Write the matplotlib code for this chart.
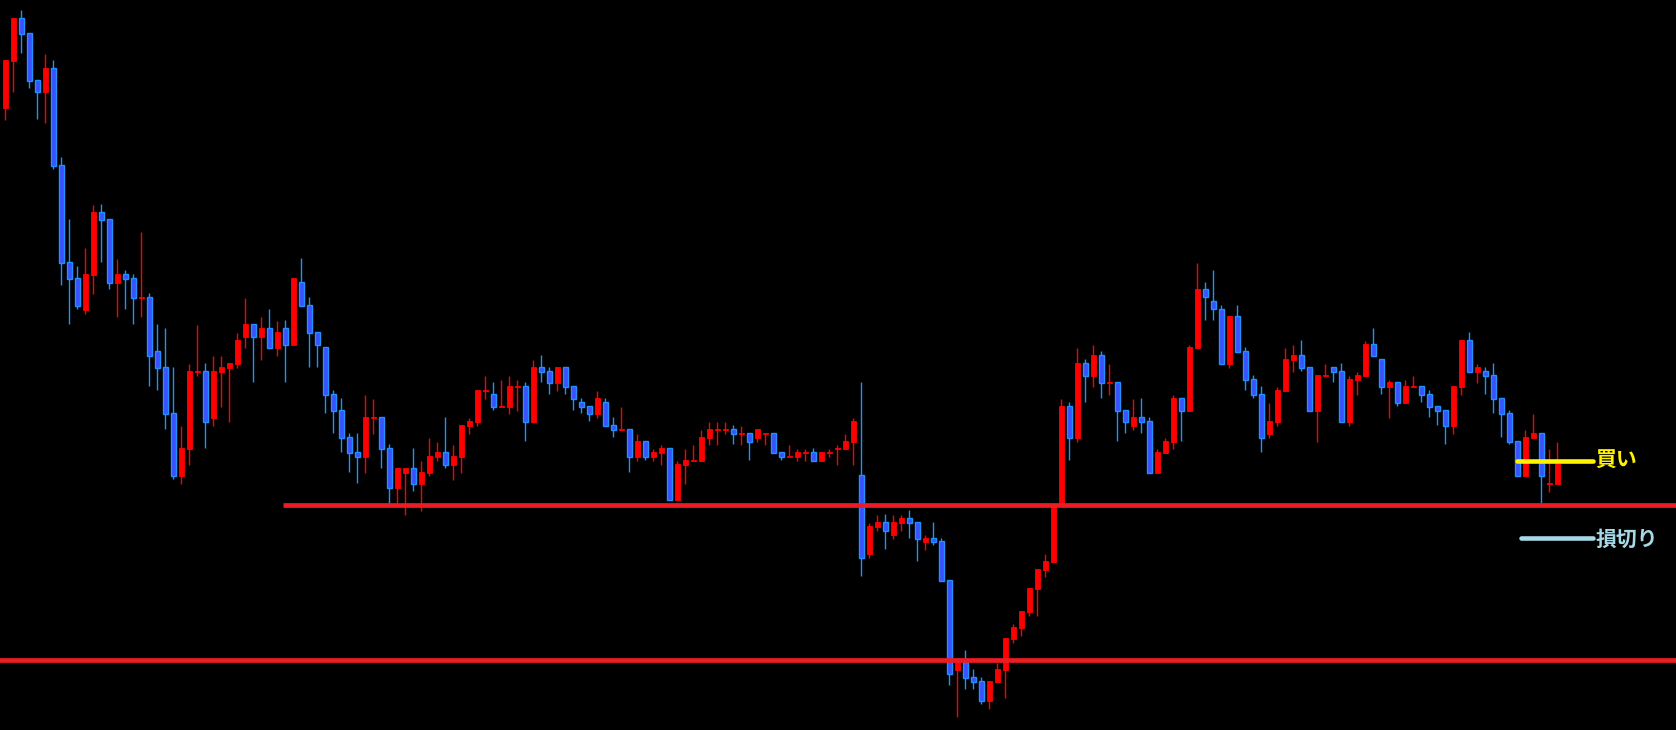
import matplotlib
matplotlib.use("Agg")
import matplotlib.pyplot as plt
import numpy as np

# 价格单位 = 画面上的纵向刻度 (数值越大越靠下, y 轴反转)
opens = [108, 61, 18, 33, 80, 92, 68, 165, 262, 278, 310, 275, 212, 219, 283, 274, 278, 297, 297, 351,
         367, 413, 476, 449, 371, 371, 418, 372, 368, 364, 337, 324, 337, 328, 348, 328, 345, 282, 305, 332,
         347, 394, 410, 437, 452, 457, 417, 417, 448, 488, 473, 468, 484, 473, 457, 452, 465, 457, 426, 422,
         390, 394, 406, 407, 386, 386, 422, 367, 371, 383, 367, 386, 402, 406, 414, 402, 425, 429, 429, 457,
         441, 457, 453, 448, 500, 465, 460, 461, 438, 429, 429, 429, 433, 433, 438, 433, 433, 452, 456, 457,
         452, 452, 461, 452, 448, 449, 442, 475, 554, 527, 522, 535, 523, 518, 522, 542, 538, 541, 580, 670,
         662, 677, 681, 701, 682, 670, 639, 628, 612, 589, 570, 562, 505, 406, 438, 363, 376, 355, 382, 382,
         410, 426, 417, 421, 473, 453, 442, 398, 411, 348, 289, 301, 309, 364, 316, 351, 379, 394, 434, 422,
         391, 360, 355, 367, 411, 375, 367, 371, 422, 380, 376, 344, 359, 387, 382, 403, 386, 386, 394, 406,
         410, 426, 387, 340, 372, 371, 375, 398, 413, 441, 476, 438, 433, 483, 484]
closes = [60, 18, 34, 81, 92, 68, 166, 263, 279, 306, 274, 212, 220, 283, 274, 279, 298, 297, 356, 368,
          414, 476, 448, 371, 371, 422, 371, 367, 363, 340, 324, 337, 328, 348, 332, 345, 278, 306, 333, 345,
          395, 411, 438, 453, 457, 417, 417, 449, 488, 468, 468, 484, 472, 456, 452, 465, 456, 425, 421, 390,
          390, 407, 406, 386, 386, 422, 367, 372, 383, 367, 387, 399, 407, 414, 398, 426, 430, 429, 457, 441,
          457, 452, 448, 500, 464, 460, 460, 437, 429, 429, 429, 434, 433, 442, 429, 433, 453, 457, 456, 452,
          452, 461, 452, 452, 448, 441, 421, 558, 526, 522, 531, 522, 518, 523, 539, 538, 542, 581, 674, 659,
          678, 682, 701, 681, 669, 638, 627, 611, 588, 569, 561, 505, 406, 438, 363, 376, 355, 383, 382, 411,
          422, 417, 422, 473, 452, 441, 398, 411, 347, 289, 297, 309, 364, 316, 352, 380, 395, 438, 421, 390,
          359, 355, 368, 411, 375, 375, 372, 422, 379, 375, 344, 356, 387, 382, 403, 386, 386, 395, 407, 411,
          426, 386, 340, 372, 367, 376, 399, 414, 442, 476, 437, 433, 476, 483, 464]
highs = [60, 18, 10, 33, 80, 54, 60, 157, 219, 266, 248, 205, 204, 219, 259, 270, 274, 232, 293, 324,
         328, 367, 426, 364, 325, 363, 356, 356, 363, 333, 298, 324, 317, 309, 321, 320, 278, 258, 297, 332,
         347, 390, 398, 433, 433, 395, 399, 417, 444, 468, 468, 448, 461, 438, 442, 417, 445, 425, 418, 390,
         376, 382, 380, 376, 380, 382, 360, 355, 367, 367, 367, 386, 398, 406, 391, 398, 417, 407, 429, 434,
         441, 449, 445, 448, 461, 449, 445, 430, 422, 422, 422, 425, 426, 433, 429, 433, 433, 452, 445, 449,
         449, 448, 452, 449, 445, 434, 418, 382, 523, 515, 514, 515, 515, 510, 522, 535, 522, 538, 580, 659,
         650, 669, 677, 681, 663, 638, 624, 611, 588, 569, 554, 505, 399, 402, 348, 359, 345, 351, 364, 382,
         410, 399, 398, 417, 449, 438, 395, 398, 345, 263, 282, 270, 305, 316, 305, 347, 375, 386, 403, 387,
         348, 345, 340, 367, 375, 364, 367, 363, 376, 372, 341, 328, 359, 380, 382, 380, 376, 386, 390, 406,
         410, 386, 340, 332, 364, 367, 363, 398, 410, 441, 430, 414, 433, 449, 442]
lows = [120, 92, 53, 88, 119, 123, 169, 285, 324, 309, 314, 294, 262, 289, 317, 309, 324, 317, 386, 390,
        429, 479, 484, 465, 376, 448, 426, 407, 422, 368, 348, 382, 360, 348, 356, 382, 345, 306, 367, 367,
        413, 433, 452, 472, 483, 473, 434, 468, 504, 503, 515, 491, 511, 476, 461, 468, 480, 473, 434, 426,
        399, 410, 406, 414, 411, 441, 422, 382, 394, 391, 394, 410, 413, 421, 418, 426, 437, 429, 472, 461,
        460, 461, 465, 500, 500, 484, 460, 461, 445, 445, 434, 444, 445, 460, 442, 445, 453, 460, 456, 461,
        461, 461, 461, 457, 465, 449, 465, 576, 558, 531, 549, 539, 531, 538, 561, 550, 545, 581, 685, 717,
        689, 689, 704, 709, 682, 698, 643, 636, 616, 616, 577, 562, 505, 460, 442, 402, 387, 398, 395, 441,
        433, 430, 433, 473, 473, 453, 449, 441, 411, 348, 320, 320, 364, 368, 352, 390, 398, 452, 438, 426,
        391, 372, 371, 411, 442, 375, 382, 422, 426, 395, 376, 356, 394, 418, 406, 403, 387, 402, 417, 425,
        444, 434, 395, 372, 383, 394, 413, 437, 444, 476, 476, 438, 503, 492, 484]

# 水平线 (价格, 起点K线序号)
resist_level, resist_start = 505, 34.7
support_level = 659.5
buy_level, buy_x = 460.5, (189.0, 198.4)
stop_level, stop_x = 537.5, (189.4, 198.5)

RED = '#ff0000'
BLUE_FILL = '#3c50ff'
BLUE_EDGE = '#1e90ff'

fig = plt.figure(figsize=(16.76, 7.30), dpi=100, facecolor='black')
ax = fig.add_axes([0, 0, 1, 1])
ax.set_facecolor('black')
ax.axis('off')

o = np.array(opens, float)
c = np.array(closes, float)
h = np.array(highs, float)
l = np.array(lows, float)
x = np.arange(len(o))
up = c <= o   # 画面坐标: 数值小 = 价格高

# 影线
ax.vlines(x[up], h[up], l[up], color=RED, lw=1.0, zorder=2)
ax.vlines(x[~up], h[~up], l[~up], color=BLUE_EDGE, lw=1.0, zorder=2)

# 实体
bottom = np.minimum(o, c)
height = np.maximum(np.abs(o - c), 0.8)
ax.bar(x[up], height[up], bottom=bottom[up], width=0.6, color=RED, edgecolor=RED, lw=0.6, zorder=3)
ax.bar(x[~up], height[~up], bottom=bottom[~up], width=0.6, color=BLUE_FILL, edgecolor=BLUE_EDGE, lw=1.0, zorder=3)

ax.set_xlim(-0.667, 208.83)
ax.set_ylim(730, 0)

# 水平线
ax.hlines(resist_level, resist_start, 210, color='#ed1c24', lw=3.4, zorder=4)
ax.hlines(support_level, -1, 210, color='#ed1c24', lw=3.4, zorder=4)

ax.plot(buy_x, [buy_level, buy_level], color='#fff200', lw=3.3, solid_capstyle='round', zorder=5)
ax.plot(stop_x, [stop_level, stop_level], color='#a6d8e6', lw=3.3, solid_capstyle='round', zorder=5)
ax.text(198.8, buy_level, '買い', color='#fff200', fontsize=15, fontweight='bold',
        family=['Noto Sans CJK JP', 'DejaVu Sans'], va='center', ha='left')
ax.text(198.8, stop_level + 1.5, '損切り', color='#a6d8e6', fontsize=15, fontweight='bold',
        family=['Noto Sans CJK JP', 'DejaVu Sans'], va='center', ha='left')

fig.savefig('out.png', dpi=100, facecolor='black')
